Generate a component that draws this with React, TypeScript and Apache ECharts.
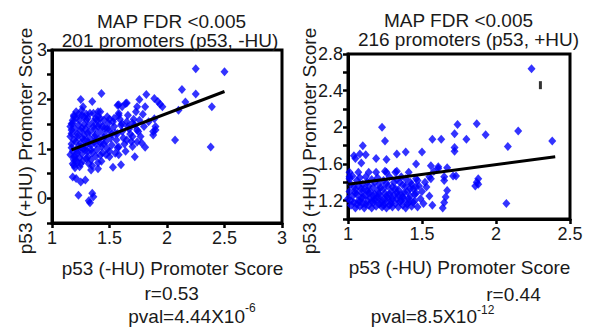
import React, { useEffect, useRef } from "react";
import * as echarts from "echarts";

// ---- data ----
const leftXTicks = [1, 1.5, 2, 2.5, 3];
const leftYLabels = [0, 1, 2, 3];
const rightXTicks = [1, 1.5, 2, 2.5];
const rightYLabels = [1.2, 1.6, 2, 2.4, 2.8];

// -HU vs +HU scores (201 promoters)
const leftPoints: [number, number][] = [
  [2.25, 2.62], [2.5, 2.56], [2.13, 2.2], [2.25, 2.11], [2.16, 1.95], [2.39, 1.85], [2.1, 1.78],
  [2.07, 1.18], [2.38, 1.04], [1.43, 2.12], [1.25, 2.0], [1.35, 1.96], [1.82, 2.1], [1.89, 2.02],
  [1.92, 1.96], [1.94, 1.9], [1.96, 1.85], [1.76, 2.0], [1.65, 1.93], [1.58, 1.89], [1.74, 1.85],
  [1.81, 1.85], [1.27, 1.85], [1.4, 1.75], [1.5, 1.6], [1.58, 1.72], [1.73, 1.75], [1.89, 1.61],
  [1.9, 1.45], [1.88, 1.35], [1.9, 1.38], [1.88, 1.28], [1.81, 1.03], [1.72, 0.84], [1.6, 0.68],
  [1.53, 0.63], [1.4, 0.6], [1.34, 0.57], [1.21, 0.4], [1.25, 0.33], [1.29, 0.37], [1.18, 0.43],
  [1.23, 0.06], [1.35, 0.1], [1.36, 0.03], [1.33, -0.09], [1.32, -0.05],
  [1.7, 1.52], [1.74, 1.38], [1.7, 1.25], [1.74, 1.14], [1.65, 1.18], [1.57, 1.31], [1.58, 1.04],
  [1.55, 0.91], [1.5, 0.84], [1.42, 0.87], [1.54, 1.62], [1.58, 1.68], [1.61, 1.85], [1.57, 1.88],
  [1.64, 1.92], [1.61, 1.51], [1.66, 1.45], [1.48, 1.65], [1.42, 1.75], [1.38, 1.62], [1.48, 1.4],
  [1.52, 1.3], [1.45, 1.23], [1.42, 1.12], [1.37, 1.15], [1.31, 0.84], [1.29, 0.97], [1.25, 0.7],
  [1.21, 0.77], [1.19, 0.67], [1.19, 0.84], [1.22, 0.97], [1.19, 1.18], [1.17, 1.31], [1.17, 1.51],
  [1.19, 1.65], [1.21, 1.75], [1.26, 1.68], [1.3, 1.59], [1.33, 1.72], [1.36, 1.45], [1.31, 1.32],
  [1.26, 1.42], [1.22, 1.25], [1.28, 1.18], [1.32, 1.12], [1.25, 1.04], [1.34, 0.98], [1.38, 1.28],
  [1.4, 1.45], [1.16, 1.45], [1.17, 1.38], [1.18, 1.52], [1.16, 1.25], [1.17, 1.1], [1.18, 0.95],
  [1.16, 0.88], [1.19, 0.78], [1.2, 0.62], [1.18, 0.7], [1.21, 1.62], [1.2, 1.4], [1.22, 1.3],
  [1.21, 1.15], [1.23, 1.05], [1.22, 0.92], [1.24, 0.82], [1.23, 1.48], [1.24, 1.58], [1.25, 1.36],
  [1.26, 1.22], [1.25, 1.12], [1.27, 1.0], [1.26, 0.9], [1.27, 0.76], [1.28, 1.5], [1.29, 1.4],
  [1.28, 1.28], [1.3, 1.18], [1.29, 1.05], [1.31, 0.95], [1.3, 0.8], [1.31, 1.62], [1.32, 1.48],
  [1.33, 1.34], [1.33, 1.2], [1.34, 1.08], [1.35, 0.92], [1.34, 0.78], [1.36, 1.55], [1.37, 1.4],
  [1.37, 1.25], [1.38, 1.1], [1.39, 0.98], [1.38, 0.85], [1.4, 1.65], [1.41, 1.5], [1.42, 1.35],
  [1.41, 1.2], [1.43, 1.05], [1.44, 0.92], [1.43, 0.75], [1.45, 1.58], [1.46, 1.42], [1.46, 1.28],
  [1.47, 1.15], [1.48, 1.0], [1.47, 0.88], [1.18, 1.58], [1.19, 1.68], [1.17, 1.02], [1.2, 0.85],
  [1.22, 0.72], [1.24, 0.64], [1.23, 1.7], [1.26, 1.78], [1.28, 1.65], [1.3, 1.7], [1.32, 0.7],
  [1.35, 0.66], [1.36, 1.72], [1.39, 1.58], [1.4, 0.72], [1.42, 1.62], [1.44, 1.45], [1.45, 1.1],
  [1.49, 1.52], [1.5, 1.38], [1.51, 1.22], [1.52, 1.08], [1.5, 0.95], [1.53, 1.55], [1.54, 1.45],
  [1.55, 1.32], [1.56, 1.18], [1.57, 1.02], [1.58, 0.88], [1.59, 1.6], [1.6, 1.48], [1.61, 1.35],
  [1.62, 1.22], [1.63, 1.1], [1.64, 0.95], [1.65, 1.55], [1.66, 1.68], [1.67, 1.4], [1.68, 1.3],
  [1.69, 1.15], [1.7, 1.05], [1.71, 1.6], [1.72, 1.48], [1.75, 1.35], [1.77, 1.25], [1.78, 1.12],
  [1.76, 1.58], [1.8, 1.45], [1.79, 1.7], [1.84, 1.55],
];
const leftFit: [number, number][] = [[1.17, 0.98], [2.5, 2.16]];

// -HU vs +HU scores (216 promoters)
const rightPoints: [number, number][] = [
  [2.24, 2.64], [1.23, 2.0], [1.25, 1.85], [1.1, 1.8], [1.04, 1.69], [1.08, 1.71], [1.12, 1.7],
  [1.09, 1.61], [1.26, 1.65], [1.33, 1.71], [1.39, 1.73], [1.5, 1.73], [1.46, 1.6], [1.57, 1.87],
  [1.63, 1.87], [1.72, 1.93], [1.74, 2.03], [1.72, 1.74], [1.72, 1.78], [1.87, 2.04], [1.8, 1.87],
  [1.93, 1.92], [2.15, 1.96], [2.08, 1.79], [2.38, 1.85], [2.07, 1.17], [1.88, 1.44], [1.87, 1.4],
  [1.86, 1.36], [1.88, 1.38], [1.73, 1.47], [1.01, 1.51], [1.07, 1.51], [1.14, 1.51], [1.19, 1.51],
  [1.26, 1.51], [1.32, 1.51], [1.41, 1.51], [1.56, 1.58], [1.61, 1.55], [1.67, 1.56], [1.56, 1.44],
  [1.65, 1.42], [1.71, 1.47], [1.67, 1.31], [1.66, 1.24], [1.65, 1.18], [1.57, 1.15], [1.64, 1.12],
  [1.0, 1.22], [1.01, 1.3], [1.02, 1.15], [1.02, 1.38], [1.03, 1.25], [1.04, 1.18], [1.05, 1.32],
  [1.05, 1.12], [1.06, 1.27], [1.07, 1.2], [1.07, 1.36], [1.08, 1.14], [1.09, 1.29], [1.09, 1.23],
  [1.1, 1.17], [1.11, 1.33], [1.11, 1.12], [1.12, 1.26], [1.13, 1.2], [1.13, 1.4], [1.14, 1.15],
  [1.15, 1.3], [1.15, 1.23], [1.16, 1.12], [1.17, 1.35], [1.17, 1.18], [1.18, 1.27], [1.19, 1.14],
  [1.19, 1.22], [1.2, 1.31], [1.21, 1.16], [1.21, 1.38], [1.22, 1.25], [1.23, 1.13], [1.23, 1.2],
  [1.24, 1.33], [1.25, 1.17], [1.25, 1.28], [1.26, 1.12], [1.27, 1.23], [1.27, 1.36], [1.28, 1.15],
  [1.29, 1.3], [1.29, 1.2], [1.3, 1.13], [1.31, 1.26], [1.31, 1.4], [1.32, 1.17], [1.33, 1.22],
  [1.34, 1.13], [1.34, 1.32], [1.35, 1.19], [1.36, 1.27], [1.37, 1.15], [1.37, 1.37], [1.38, 1.22],
  [1.39, 1.12], [1.4, 1.3], [1.41, 1.18], [1.42, 1.25], [1.42, 1.4], [1.43, 1.14], [1.44, 1.33],
  [1.45, 1.2], [1.46, 1.28], [1.47, 1.13], [1.48, 1.36], [1.49, 1.22], [1.5, 1.3], [1.51, 1.17],
  [1.01, 1.44], [1.03, 1.47], [1.06, 1.42], [1.08, 1.45], [1.12, 1.46], [1.16, 1.43], [1.2, 1.45],
  [1.24, 1.42], [1.28, 1.46], [1.33, 1.43], [1.36, 1.46], [1.04, 1.35], [1.1, 1.38], [1.14, 1.36],
  [1.18, 1.4], [1.22, 1.34], [1.26, 1.39], [1.3, 1.35], [1.35, 1.4], [1.39, 1.36], [1.43, 1.38],
  [1.47, 1.42], [1.02, 1.2], [1.06, 1.16], [1.1, 1.24], [1.14, 1.28], [1.18, 1.21], [1.22, 1.18],
  [1.26, 1.25], [1.3, 1.22], [1.34, 1.26], [1.38, 1.29], [1.42, 1.33], [1.46, 1.35], [1.05, 1.28],
  [1.09, 1.33], [1.13, 1.31], [1.17, 1.25], [1.21, 1.28], [1.25, 1.21], [1.29, 1.17], [1.33, 1.29],
  [1.37, 1.24], [1.41, 1.22], [1.45, 1.27], [1.08, 1.19], [1.12, 1.16], [1.16, 1.19], [1.2, 1.24],
  [1.24, 1.15], [1.28, 1.27], [1.32, 1.33], [1.36, 1.2], [1.4, 1.16], [1.44, 1.18], [1.01, 1.46],
  [1.19, 1.66], [1.05, 1.66], [1.25, 1.52], [1.33, 1.52], [1.39, 1.44], [1.46, 1.44], [1.55, 1.46],
  [1.61, 1.57], [1.65, 1.46], [1.52, 1.4], [1.55, 1.25], [1.53, 1.35], [1.58, 1.52],
];
const rightFit: [number, number][] = [[1.0, 1.38], [2.4, 1.68]];
const rightMark: [number, number][] = [[2.3, 2.46]];

const FONT = "'Liberation Sans', Arial, Helvetica, sans-serif";
const TXT = "#1a1a1a";

function isIn(list: number[], v: number) {
  return list.some((t) => Math.abs(t - v) < 1e-6);
}

export default function App() {
  const ref = useRef<HTMLDivElement>(null);
  useEffect(() => {
    document.body.style.margin = "0";
    const chart = echarts.init(ref.current!, null, { renderer: "svg" });
    const axisCommon = {
      axisLine: { show: true, onZero: false, lineStyle: { color: "#000", width: 3 } },
      axisTick: { show: true, inside: false, length: 5, lineStyle: { color: "#000", width: 2.5 } },
      splitLine: { show: false },
    };
    const labelStyle = { color: TXT, fontSize: 18, fontFamily: FONT };
    const t = (x: number, y: number, text: string, extra: any = {}) => ({
      type: "text",
      x,
      y,
      rotation: extra.rotation || 0,
      style: {
        text,
        fill: TXT,
        fontSize: extra.fontSize || 19,
        fontFamily: FONT,
        align: extra.align || "center",
        verticalAlign: "middle",
      },
    });
    chart.setOption({
      animation: false,
      grid: [
        { left: 52, right: 315, top: 50, bottom: 105, show: true, borderColor: "#000", borderWidth: 3 },
        { left: 348, right: 27, top: 54, bottom: 109, show: true, borderColor: "#000", borderWidth: 3 },
      ],
      xAxis: [
        {
          ...axisCommon,
          type: "value",
          gridIndex: 0,
          min: 1,
          max: 3,
          interval: 0.5,
          axisLabel: {
            ...labelStyle,
            margin: 6,
            showMinLabel: true,
            showMaxLabel: true,
            formatter: (v: number) => (isIn(leftXTicks, v) ? String(Number(v.toFixed(1))) : ""),
          },
        },
        {
          ...axisCommon,
          type: "value",
          gridIndex: 1,
          min: 1,
          max: 2.5,
          interval: 0.5,
          axisLabel: {
            ...labelStyle,
            margin: 6,
            showMinLabel: true,
            showMaxLabel: true,
            formatter: (v: number) => (isIn(rightXTicks, v) ? String(Number(v.toFixed(1))) : ""),
          },
        },
      ],
      yAxis: [
        {
          ...axisCommon,
          type: "value",
          gridIndex: 0,
          min: -0.5,
          max: 3,
          interval: 0.5,
          axisLabel: {
            ...labelStyle,
            margin: 5,
            showMinLabel: true,
            showMaxLabel: true,
            formatter: (v: number) => (isIn(leftYLabels, v) ? String(Number(v.toFixed(1))) : ""),
          },
        },
        {
          ...axisCommon,
          type: "value",
          gridIndex: 1,
          min: 1,
          max: 2.8,
          interval: 0.2,
          axisLabel: {
            ...labelStyle,
            margin: 5,
            showMinLabel: true,
            showMaxLabel: true,
            formatter: (v: number) => (isIn(rightYLabels, v) ? String(Number(v.toFixed(1))) : ""),
          },
        },
      ],
      series: [
        {
          type: "scatter",
          xAxisIndex: 0,
          yAxisIndex: 0,
          data: leftPoints,
          symbol: "diamond",
          symbolSize: [8, 9],
          itemStyle: { color: "#0000ff" },
          silent: true,
          z: 2,
        },
        {
          type: "line",
          xAxisIndex: 0,
          yAxisIndex: 0,
          data: leftFit,
          symbol: "none",
          lineStyle: { color: "#000", width: 3 },
          silent: true,
          z: 3,
        },
        {
          type: "scatter",
          xAxisIndex: 1,
          yAxisIndex: 1,
          data: rightPoints,
          symbol: "diamond",
          symbolSize: [8, 9],
          itemStyle: { color: "#0000ff" },
          silent: true,
          z: 2,
        },
        {
          type: "line",
          xAxisIndex: 1,
          yAxisIndex: 1,
          data: rightFit,
          symbol: "none",
          lineStyle: { color: "#000", width: 3 },
          silent: true,
          z: 3,
        },
        {
          type: "scatter",
          xAxisIndex: 1,
          yAxisIndex: 1,
          data: rightMark,
          symbol: "rect",
          symbolSize: [3, 8],
          itemStyle: { color: "#000" },
          silent: true,
          z: 3,
        },
      ],
      graphic: [
        t(171.5, 21, "MAP FDR <0.005"),
        t(170, 40.5, "201 promoters (p53, -HU)"),
        t(458.5, 20, "MAP FDR <0.005"),
        t(468.5, 39.5, "216 promoters (p53, +HU)"),
        t(25, 141, "p53 (+HU) Promoter Score", { rotation: Math.PI / 2 }),
        t(309, 141, "p53 (+HU) Promoter Score", { rotation: Math.PI / 2 }),
        t(172.5, 268, "p53 (-HU) Promoter Score"),
        t(459.5, 267, "p53 (-HU) Promoter Score"),
        t(171.7, 293.5, "r=0.53"),
        t(513.5, 294, "r=0.44"),
        t(245, 316, "pval=4.44X10", { align: "right" }),
        t(245, 308, "-6", { align: "left", fontSize: 12 }),
        t(477, 316, "pval=8.5X10", { align: "right" }),
        t(477, 310, "-12", { align: "left", fontSize: 12 }),
      ],
    });
    return () => chart.dispose();
  }, []);
  return <div ref={ref} style={{ width: 597, height: 328 }} />;
}
